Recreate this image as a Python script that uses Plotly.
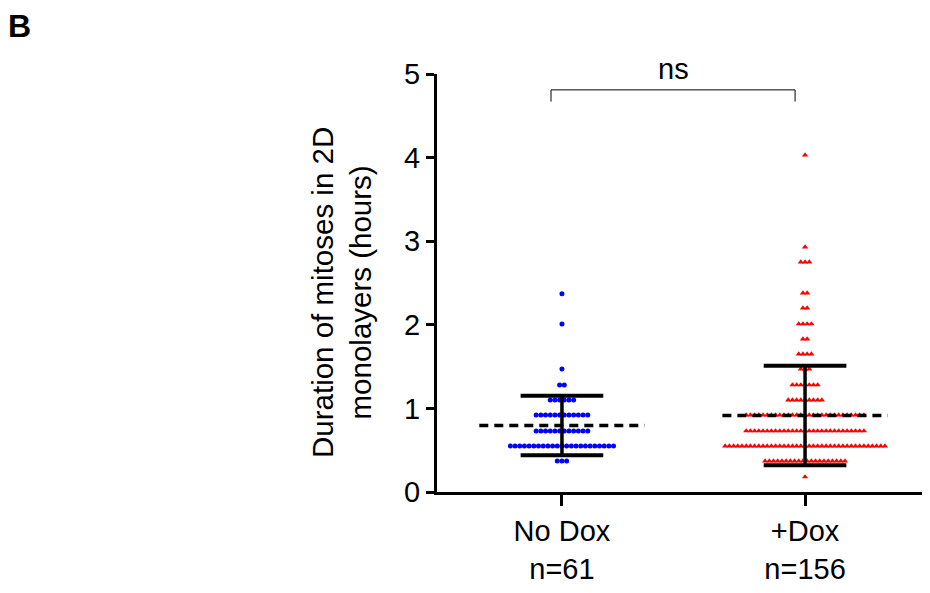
import numpy as np
import plotly.graph_objects as go

# ---------------- data ----------------
groups = ["No Dox", "+Dox"]
tick_labels = ["No Dox<br>n=61", "+Dox<br>n=156"]

# distinct durations (hours) and how many cells share each value
nodox_values = [0.37, 0.55, 0.73, 0.92, 1.10, 1.28, 1.47, 2.01, 2.37]
nodox_counts = [3, 23, 12, 12, 6, 2, 1, 1, 1]

dox_values = [0.18, 0.37, 0.55, 0.73, 0.92, 1.10, 1.28, 1.47, 1.65, 1.83,
              2.01, 2.20, 2.38, 2.75, 2.93, 4.03]
dox_counts = [1, 20, 39, 29, 29, 9, 7, 3, 4, 2,
              4, 2, 2, 3, 1, 1]

sig_label = "ns"

# ---------------- helpers ----------------
def expand(values, counts):
    return np.repeat(np.array(values, float), counts)

def swarm(values, counts, center, step):
    xs, ys = [], []
    for v, c in zip(values, counts):
        offs = (np.arange(c) - (c - 1) / 2.0) * step
        xs.extend(center + offs)
        ys.extend([v] * c)
    return xs, ys

# page body has an 8px margin, so the figure is offset by 8px in the window
W, H = 930, 593
L, R, T, B = 429, 8, 66, 109
pw, ph = W - L - R, H - T - B

fig = go.Figure()

specs = [
    (nodox_values, nodox_counts, 0, 0.0193, "#0000FF", "circle", 5),
    (dox_values, dox_counts, 1, 0.0173, "#FF0000", "triangle-up", 5.5),
]

for vals, cnts, cx, step, col, sym, sz in specs:
    xs, ys = swarm(vals, cnts, cx, step)
    fig.add_trace(go.Scatter(x=xs, y=ys, mode="markers",
                             marker=dict(color=col, symbol=sym, size=sz,
                                         line=dict(width=0)),
                             showlegend=False, hoverinfo="y"))

for vals, cnts, cx, step, col, sym, sz in specs:
    d = expand(vals, cnts)
    m = d.mean()
    sd = d.std(ddof=1)
    # mean (dashed)
    fig.add_trace(go.Scatter(x=[cx - 0.34, cx + 0.34], y=[m, m], mode="lines",
                             line=dict(color="black", width=3.5, dash="9px,6px"),
                             showlegend=False, hoverinfo="skip"))
    # SD bar
    fig.add_trace(go.Scatter(x=[cx, cx], y=[m - sd, m + sd], mode="lines",
                             line=dict(color="black", width=3.5),
                             showlegend=False, hoverinfo="skip"))
    for yy in (m - sd, m + sd):
        fig.add_trace(go.Scatter(x=[cx - 0.17, cx + 0.17], y=[yy, yy], mode="lines",
                                 line=dict(color="black", width=4),
                                 showlegend=False, hoverinfo="skip"))

# significance bracket
bx0, bx1, by, bdrop = -0.045, 0.959, 4.81, 4.67
fig.add_shape(type="path",
              path=f"M {bx0},{bdrop} L {bx0},{by} L {bx1},{by} L {bx1},{bdrop}",
              line=dict(color="black", width=1), xref="x", yref="y")
fig.add_annotation(x=(bx0 + bx1) / 2, y=by, text=sig_label, showarrow=False,
                   yanchor="bottom", yshift=3, font=dict(size=29, color="black"))

font_family = "Arial, Liberation Sans, sans-serif"

fig.add_annotation(xref="paper", yref="paper",
                   x=(-2 - L) / pw, y=(H - B + 2) / ph,
                   xanchor="left", yanchor="top", showarrow=False,
                   text="<b>B</b>", font=dict(size=32, color="black"))

fig.add_annotation(xref="paper", yref="paper",
                   x=(333 - L) / pw, y=(H - B - 285) / ph,
                   xanchor="center", yanchor="middle", showarrow=False,
                   textangle=-90,
                   text="Duration of mitoses in 2D<br>monolayers (hours)",
                   font=dict(size=29.5, color="black"))

fig.update_layout(
    width=W, height=H,
    margin=dict(l=L, r=R, t=T, b=B, pad=0),
    plot_bgcolor="white", paper_bgcolor="white",
    font=dict(family=font_family, color="black", size=29),
    xaxis=dict(range=[-0.514, 1.514], tickvals=[0, 1], ticktext=tick_labels,
               showgrid=False, zeroline=False, showline=True, linecolor="black",
               linewidth=3, ticks="outside", ticklen=11, tickwidth=3,
               tickcolor="black", tickfont=dict(size=29)),
    yaxis=dict(range=[0, 5], tickvals=[0, 1, 2, 3, 4, 5],
               showgrid=False, zeroline=False, showline=True, linecolor="black",
               linewidth=3, ticks="outside", ticklen=8, tickwidth=3,
               tickcolor="black", tickfont=dict(size=29)),
    showlegend=False,
)

fig.write_html("out.html")
